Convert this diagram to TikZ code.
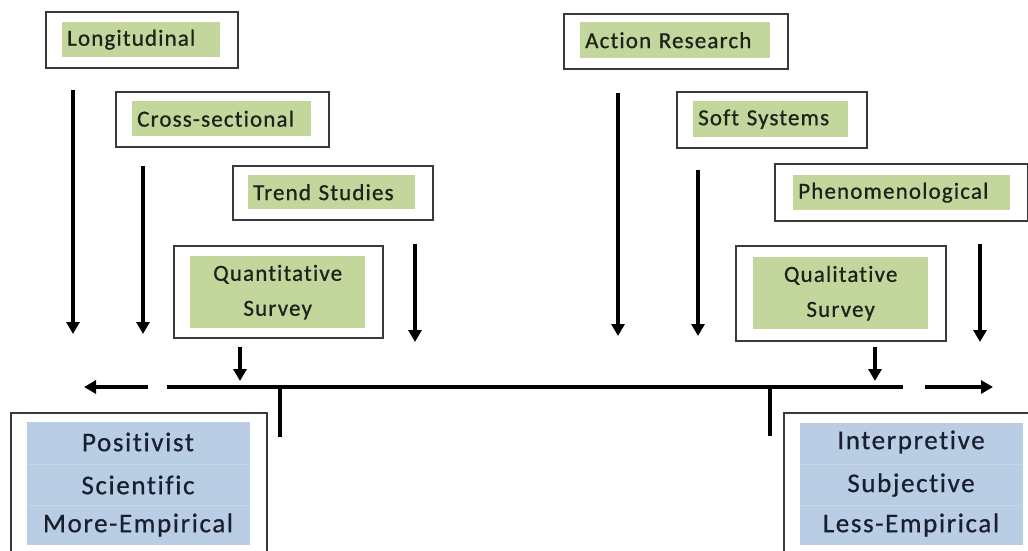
\documentclass[tikz,border=0pt]{standalone}
\usepackage{fontspec}
\setmainfont{Carlito}
\newfontfamily\methodfont{Carlito}[LetterSpace=5, FakeBold=0.7, Ligatures=NoCommon]
\newfontfamily\poolfont{Carlito}[LetterSpace=6, FakeBold=0.7, Ligatures=NoCommon]
\usetikzlibrary{arrows.meta}
\definecolor{methodgreen}{HTML}{C3D69B}
\definecolor{poolblue}{HTML}{B9CDE5}
\definecolor{rowline}{HTML}{C6D6EA}
\definecolor{frame}{HTML}{3A3A3A}
\definecolor{ink}{HTML}{1E221A}
\definecolor{navyink}{HTML}{1A1F2E}
\tikzset{
  outerbox/.style={draw=frame, line width=1.8pt, fill=white, inner sep=0pt, anchor=north west},
  methodbox/.style={fill=methodgreen, inner xsep=5pt, inner ysep=0pt, anchor=north west,
    text=ink, font=\methodfont\fontsize{23}{35}\selectfont},
  poolbox/.style={fill=poolblue, inner sep=0pt, anchor=north west},
  pooltext/.style={text=navyink, font=\poolfont\fontsize{27}{30}\selectfont, anchor=center},
  flow/.style={line width=3.6pt, -{Triangle[width=13pt,length=12pt]}},
  axis/.style={line width=3.6pt},
}
\begin{document}
\begin{tikzpicture}[x=1pt,y=-1pt]
\useasboundingbox (0,0) rectangle (1028,550);
\clip (0,0) rectangle (1028,550);

% ---- quantitative side: method boxes ----
\node[outerbox, minimum width=192pt, minimum height=56pt] (lonO) at (45,11) {};
\node[methodbox, text width=148pt, minimum height=35pt, align=left] (lon) at (62,22) {Longitudinal};
\node[outerbox, minimum width=213pt, minimum height=55pt] (croO) at (115,91) {};
\node[methodbox, text width=169pt, minimum height=35pt, align=left] (cro) at (132,101) {Cross-sectional};
\node[outerbox, minimum width=200pt, minimum height=54pt] (treO) at (232,165) {};
\node[methodbox, text width=157pt, minimum height=34pt, align=left] (tre) at (248,175) {Trend Studies};
\node[outerbox, minimum width=209pt, minimum height=92pt] (quaO) at (173,245) {};
\node[methodbox, text width=165pt, minimum height=72pt, align=center] (qua) at (190,256) {Quantitative\\Survey};

% ---- qualitative side: method boxes ----
\node[outerbox, minimum width=224pt, minimum height=55pt] (actO) at (563,13) {};
\node[methodbox, text width=180pt, minimum height=36pt, align=left] (act) at (580,22) {Action Research};
\node[outerbox, minimum width=190pt, minimum height=56pt] (sofO) at (676,91) {};
\node[methodbox, text width=145pt, minimum height=36pt, align=left] (sof) at (693,101) {Soft Systems};
\node[outerbox, minimum width=253pt, minimum height=57pt] (phe) at (774,163) {};
\node[methodbox, text width=207pt, minimum height=35pt, align=left] (phi) at (793,175) {Phenomenological};
\node[outerbox, minimum width=210pt, minimum height=95pt] (qlO) at (735,245) {};
\node[methodbox, text width=165pt, minimum height=72pt, align=center] (qli) at (753,257) {Qualitative\\Survey};

% ---- paradigm boxes ----
\node[outerbox, minimum width=256pt, minimum height=160pt] (posO) at (10,412) {};
\node[poolbox, minimum width=223pt, minimum height=123pt] (pos) at (27,422) {};
\node[outerbox, minimum width=260pt, minimum height=160pt] (intO) at (783,412) {};
\node[poolbox, minimum width=223pt, minimum height=122pt] (int) at (800,423) {};
\draw[rowline, line width=0.8pt] (27,464) -- (250,464) (27,505) -- (250,505);
\draw[rowline, line width=0.8pt] (800,464) -- (1023,464) (800,505) -- (1023,505);
\node[pooltext] (p1) at (138,442) {Positivist};
\node[pooltext] (p2) at (138,485) {Scientific};
\node[pooltext] (p3) at (138,525) {More-Empirical};
\node[pooltext] (i1) at (911,442) {Interpretive};
\node[pooltext] (i2) at (911,485) {Subjective};
\node[pooltext] (i3) at (911,525) {Less-Empirical};

% ---- arrow end points ----
\coordinate (lonS) at (73,90);   \coordinate (lonE) at (73,334);
\coordinate (croS) at (143,166); \coordinate (croE) at (143,334);
\coordinate (treS) at (415,244); \coordinate (treE) at (415,342);
\coordinate (quaS) at (240,347); \coordinate (quaE) at (240,381);
\coordinate (actS) at (618,93);  \coordinate (actE) at (618,336);
\coordinate (sofS) at (698,170); \coordinate (sofE) at (698,336);
\coordinate (pheS) at (980,244); \coordinate (pheE) at (980,342);
\coordinate (qlS)  at (875,347); \coordinate (qlE)  at (875,381);

\draw[flow] (lonS) -- (lonE);
\draw[flow] (croS) -- (croE);
\draw[flow] (treS) -- (treE);
\draw[flow] (quaS) -- (quaE);
\draw[flow] (actS) -- (actE);
\draw[flow] (sofS) -- (sofE);
\draw[flow] (pheS) -- (pheE);
\draw[flow] (qlS) -- (qlE);

% ---- continuum axis ----
\coordinate (axL) at (167,387);  \coordinate (axR) at (903,387);
\coordinate (tkL) at (280,387);  \coordinate (tkLb) at (280,437);
\coordinate (tkR) at (770,387);  \coordinate (tkRb) at (770,436);
\coordinate (leftS) at (148,387);  \coordinate (leftE) at (84,387);
\coordinate (rightS) at (925,387); \coordinate (rightE) at (993,387);
\draw[axis] (axL) -- (axR);
\draw[axis] (tkL) -- (tkLb);
\draw[axis] (tkR) -- (tkRb);
\draw[flow] (leftS) -- (leftE);
\draw[flow] (rightS) -- (rightE);
\end{tikzpicture}
\end{document}
